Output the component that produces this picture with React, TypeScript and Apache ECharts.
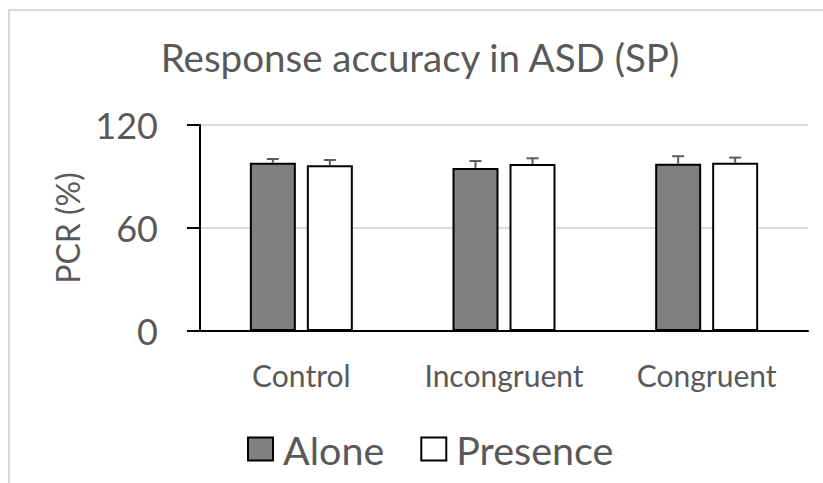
import React, { useEffect, useRef } from "react";
import * as echarts from "echarts";

const categories = ["Control", "Incongruent", "Congruent"];
const seriesNames = ["Alone", "Presence"];
const aloneValues = [98, 95, 97.5];
const aloneErrors = [2.2, 4, 4.3];
const presenceValues = [96.5, 97.3, 98];
const presenceErrors = [3.1, 3.3, 3];
const yTicks = { min: 0, max: 120, interval: 60 };
const titleText = "Response accuracy in ASD (SP)";
const yAxisName = "PCR (%)";

const FONT = "Lato, 'Open Sans', sans-serif";
const TEXT = "#595959";
const BAR_W = 46;
const BAR_GAP_PX = 11;

export default function App() {
  const ref = useRef<HTMLDivElement>(null);
  useEffect(() => {
    document.body.style.margin = "0";
    const chart = echarts.init(ref.current!, null, { renderer: "svg" });
    const errSeries = (values: number[], errors: number[], sign: number) => ({
      type: "custom",
      z: 10,
      silent: true,
      data: values.map((v, i) => [i, v, v + errors[i]]),
      renderItem: (params: any, api: any) => {
        const off = sign * (BAR_W + BAR_GAP_PX) / 2;
        const base = api.coord([api.value(0), api.value(1)]);
        const top = api.coord([api.value(0), api.value(2)]);
        const x = base[0] + off;
        const half = 6;
        const style = { stroke: "#5a5a5a", lineWidth: 2 };
        return {
          type: "group",
          children: [
            { type: "line", shape: { x1: x, y1: base[1], x2: x, y2: top[1] }, style },
            { type: "line", shape: { x1: x - half, y1: top[1], x2: x + half, y2: top[1] }, style },
          ],
        };
      },
    });
    chart.setOption({
      animation: false,
      graphic: [
        {
          type: "rect",
          shape: { x: 9, y: 10, width: 900, height: 600 },
          style: { fill: "none", stroke: "#d9d9d9", lineWidth: 2 },
          silent: true,
        },
        {
          type: "text",
          x: 420,
          y: 57,
          style: {
            text: titleText,
            font: `38.5px ${FONT}`,
            fill: TEXT,
            align: "center",
            verticalAlign: "middle",
          },
        },
        {
          type: "text",
          x: 67,
          y: 228,
          rotation: Math.PI / 2,
          style: {
            text: yAxisName,
            font: `32px ${FONT}`,
            fill: TEXT,
            align: "center",
            verticalAlign: "middle",
          },
        },
      ],
      legend: {
        left: 247,
        top: 429,
        padding: 0,
        itemWidth: 25,
        itemHeight: 23,
        itemGap: 36,
        icon: "rect",
        data: seriesNames,
        textStyle: { fontFamily: FONT, fontSize: 39.5, color: TEXT, padding: [0, 0, 0, 5] },
      },
      grid: { left: 200, right: 15, top: 125, bottom: 152, containLabel: false },
      xAxis: {
        type: "category",
        data: categories,
        axisLine: { lineStyle: { color: "#000", width: 2 } },
        axisTick: { show: false },
        axisLabel: { fontFamily: FONT, fontSize: 30, color: TEXT, margin: 29, interval: 0, hideOverlap: false },
      },
      yAxis: {
        type: "value",
        min: yTicks.min,
        max: yTicks.max,
        interval: yTicks.interval,
        axisLine: { show: true, lineStyle: { color: "#000", width: 2 } },
        axisTick: { show: true, length: 13, lineStyle: { color: "#000", width: 2 } },
        splitLine: { lineStyle: { color: "#d9d9d9", width: 2 } },
        axisLabel: { fontFamily: FONT, fontSize: 36, color: TEXT, margin: 42 },
      },
      series: [
        {
          name: seriesNames[0],
          type: "bar",
          data: aloneValues,
          barWidth: BAR_W,
          barGap: `${(BAR_GAP_PX / BAR_W) * 100}%`,
          itemStyle: { color: "#7f7f7f", borderColor: "#000", borderWidth: 2 },
        },
        {
          name: seriesNames[1],
          type: "bar",
          data: presenceValues,
          barWidth: BAR_W,
          barGap: `${(BAR_GAP_PX / BAR_W) * 100}%`,
          itemStyle: { color: "#ffffff", borderColor: "#000", borderWidth: 2 },
        },
        errSeries(aloneValues, aloneErrors, -1),
        errSeries(presenceValues, presenceErrors, 1),
      ],
    });
    return () => chart.dispose();
  }, []);
  return <div ref={ref} style={{ width: 823, height: 483 }} />;
}
